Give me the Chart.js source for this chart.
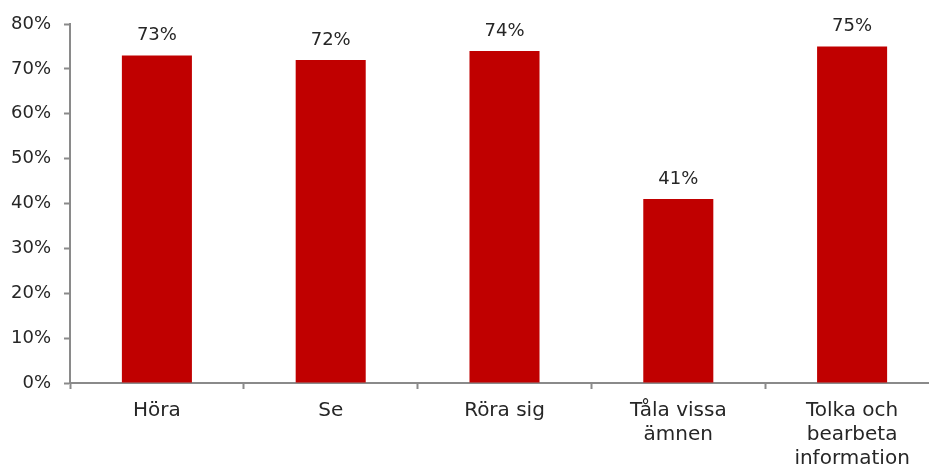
<!DOCTYPE html>
<html>
<head>
<meta charset="utf-8">
<script src="https://cdn.jsdelivr.net/npm/chart.js@4/dist/chart.umd.min.js"></script>
<style>
    html, body { margin: 0; padding: 0; background: #fff; overflow: hidden; }
    #wrap { width: 929px; height: 470px; overflow: hidden; }
</style>
</head>
<body>
<div id="wrap"><canvas id="barChart" width="939" height="470"></canvas></div>
<script>
// Chart data
const categories = ['Höra', 'Se', 'Röra sig', ['Tåla vissa', 'ämnen'], ['Tolka och', 'bearbeta', 'information']];
const shares = [73, 72, 74, 41, 75];
const yTicks = [0, 10, 20, 30, 40, 50, 60, 70, 80];

const barColor = '#C00000';
const axisColor = '#8a8a8a';
const textColor = '#262626';
const fontFamily = '"DejaVu Sans", sans-serif';

// Draw the percentage above every bar
const valueLabels = {
    id: 'valueLabels',
    afterDatasetsDraw(chart) {
        const ctx = chart.ctx;
        const meta = chart.getDatasetMeta(0);
        ctx.save();
        ctx.font = '18px ' + fontFamily;
        ctx.fillStyle = textColor;
        ctx.textAlign = 'center';
        ctx.textBaseline = 'alphabetic';
        meta.data.forEach((bar, i) => {
            ctx.fillText(shares[i] + '%', bar.x, bar.y - 15);
        });
        ctx.restore();
    }
};

const ctx = document.getElementById('barChart').getContext('2d');
new Chart(ctx, {
    type: 'bar',
    data: {
        labels: categories,
        datasets: [{
            data: shares,
            backgroundColor: barColor,
            borderWidth: 0,
            barPercentage: 1,
            categoryPercentage: 0.403
        }]
    },
    options: {
        responsive: false,
        animation: false,
        layout: { padding: { top: 24, right: 0, bottom: 0, left: 0 } },
        plugins: {
            legend: { display: false },
            tooltip: { enabled: false }
        },
        scales: {
            x: {
                grid: {
                    offset: true,
                    drawOnChartArea: false,
                    drawTicks: true,
                    tickLength: 6,
                    tickWidth: 2,
                    tickColor: axisColor
                },
                border: { color: axisColor, width: 2 },
                ticks: {
                    color: textColor,
                    padding: 10,
                    maxRotation: 0,
                    autoSkip: false,
                    font: { family: fontFamily, size: 20, lineHeight: 1.2 }
                },
                afterFit(scale) { scale.height = 87; }
            },
            y: {
                min: 0,
                max: 80,
                afterBuildTicks(scale) {
                    scale.ticks = yTicks.map(v => ({ value: v }));
                },
                grid: {
                    drawOnChartArea: false,
                    drawTicks: true,
                    tickLength: 6,
                    tickWidth: 2,
                    tickColor: axisColor
                },
                border: { color: axisColor, width: 2 },
                ticks: {
                    color: textColor,
                    padding: 13,
                    font: { family: fontFamily, size: 18 },
                    callback: v => v + '%'
                },
                afterFit(scale) { scale.width = 70; }
            }
        }
    },
    plugins: [valueLabels]
});
</script>
</body>
</html>
